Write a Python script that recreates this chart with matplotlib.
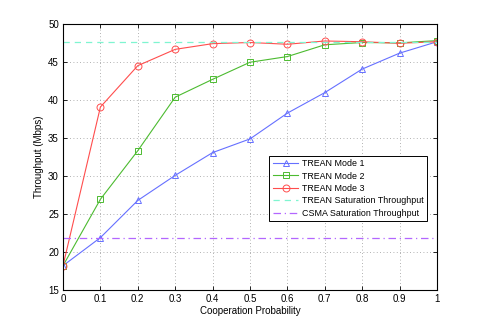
import matplotlib.pyplot as plt

plt.rcParams['font.family'] = ['Liberation Sans', 'DejaVu Sans']

# Data
p = [0, 0.1, 0.2, 0.3, 0.4, 0.5, 0.6, 0.7, 0.8, 0.9, 1.0]
mode1 = [18.2, 21.9, 26.8, 30.1, 33.1, 34.9, 38.3, 41.0, 44.1, 46.2, 47.7]
mode2 = [18.2, 26.95, 33.35, 40.4, 42.75, 45.0, 45.75, 47.3, 47.6, 47.55, 47.85]
mode3 = [18.2, 39.1, 44.55, 46.7, 47.45, 47.6, 47.37, 47.8, 47.7, 47.5, 47.7]
trean_sat = 47.67
csma_sat = 21.8

fig = plt.figure(figsize=(4.82, 3.26), dpi=100)
ax = fig.add_axes([0.1307, 0.1104, 0.7759, 0.8151])

ax.plot(p, mode1, color='#6670ff', lw=0.8, marker='^', ms=5, mfc='none', mew=0.7,
        label='TREAN Mode 1')
ax.plot(p, mode2, color='#4cbb30', lw=0.8, marker='s', ms=4.5, mfc='none', mew=0.7,
        label='TREAN Mode 2')
ax.plot(p, mode3, color='#ff4d4d', lw=0.8, marker='o', ms=5, mfc='none', mew=0.7,
        label='TREAN Mode 3')
ax.axhline(trean_sat, color='#7ff5d0', lw=0.9, ls=(0, (5, 4)),
           label='TREAN Saturation Throughput')
ax.axhline(csma_sat, color='#b366ff', lw=0.9, ls=(0, (6, 3, 1, 3)),
           label='CSMA Saturation Throughput')

ax.set_xlim(0, 1)
ax.set_ylim(15, 50)
ax.set_xticks(p)
ax.set_xticklabels(['0', '0.1', '0.2', '0.3', '0.4', '0.5', '0.6', '0.7', '0.8', '0.9', '1'])
ax.set_yticks(range(15, 51, 5))
ax.tick_params(direction='in', labelsize=7, length=3, width=0.6, top=True, right=True, pad=3)
ax.grid(True, ls=(0, (1, 3)), color='#999999', lw=0.6)
for s in ax.spines.values():
    s.set_linewidth(0.8)

ax.set_xlabel('Cooperation Probability', fontsize=7, labelpad=1)
ax.set_ylabel('Throughput (Mbps)', fontsize=7, labelpad=3)

leg = ax.legend(loc='lower right', bbox_to_anchor=(0.973, 0.2589), fontsize=6.4,
                frameon=True, fancybox=False, edgecolor='black', framealpha=1,
                borderpad=0.4, labelspacing=0.38, handlelength=2.9, handletextpad=0.35,
                borderaxespad=0)
leg.get_frame().set_linewidth(0.7)

plt.savefig('out.png', dpi=100)
